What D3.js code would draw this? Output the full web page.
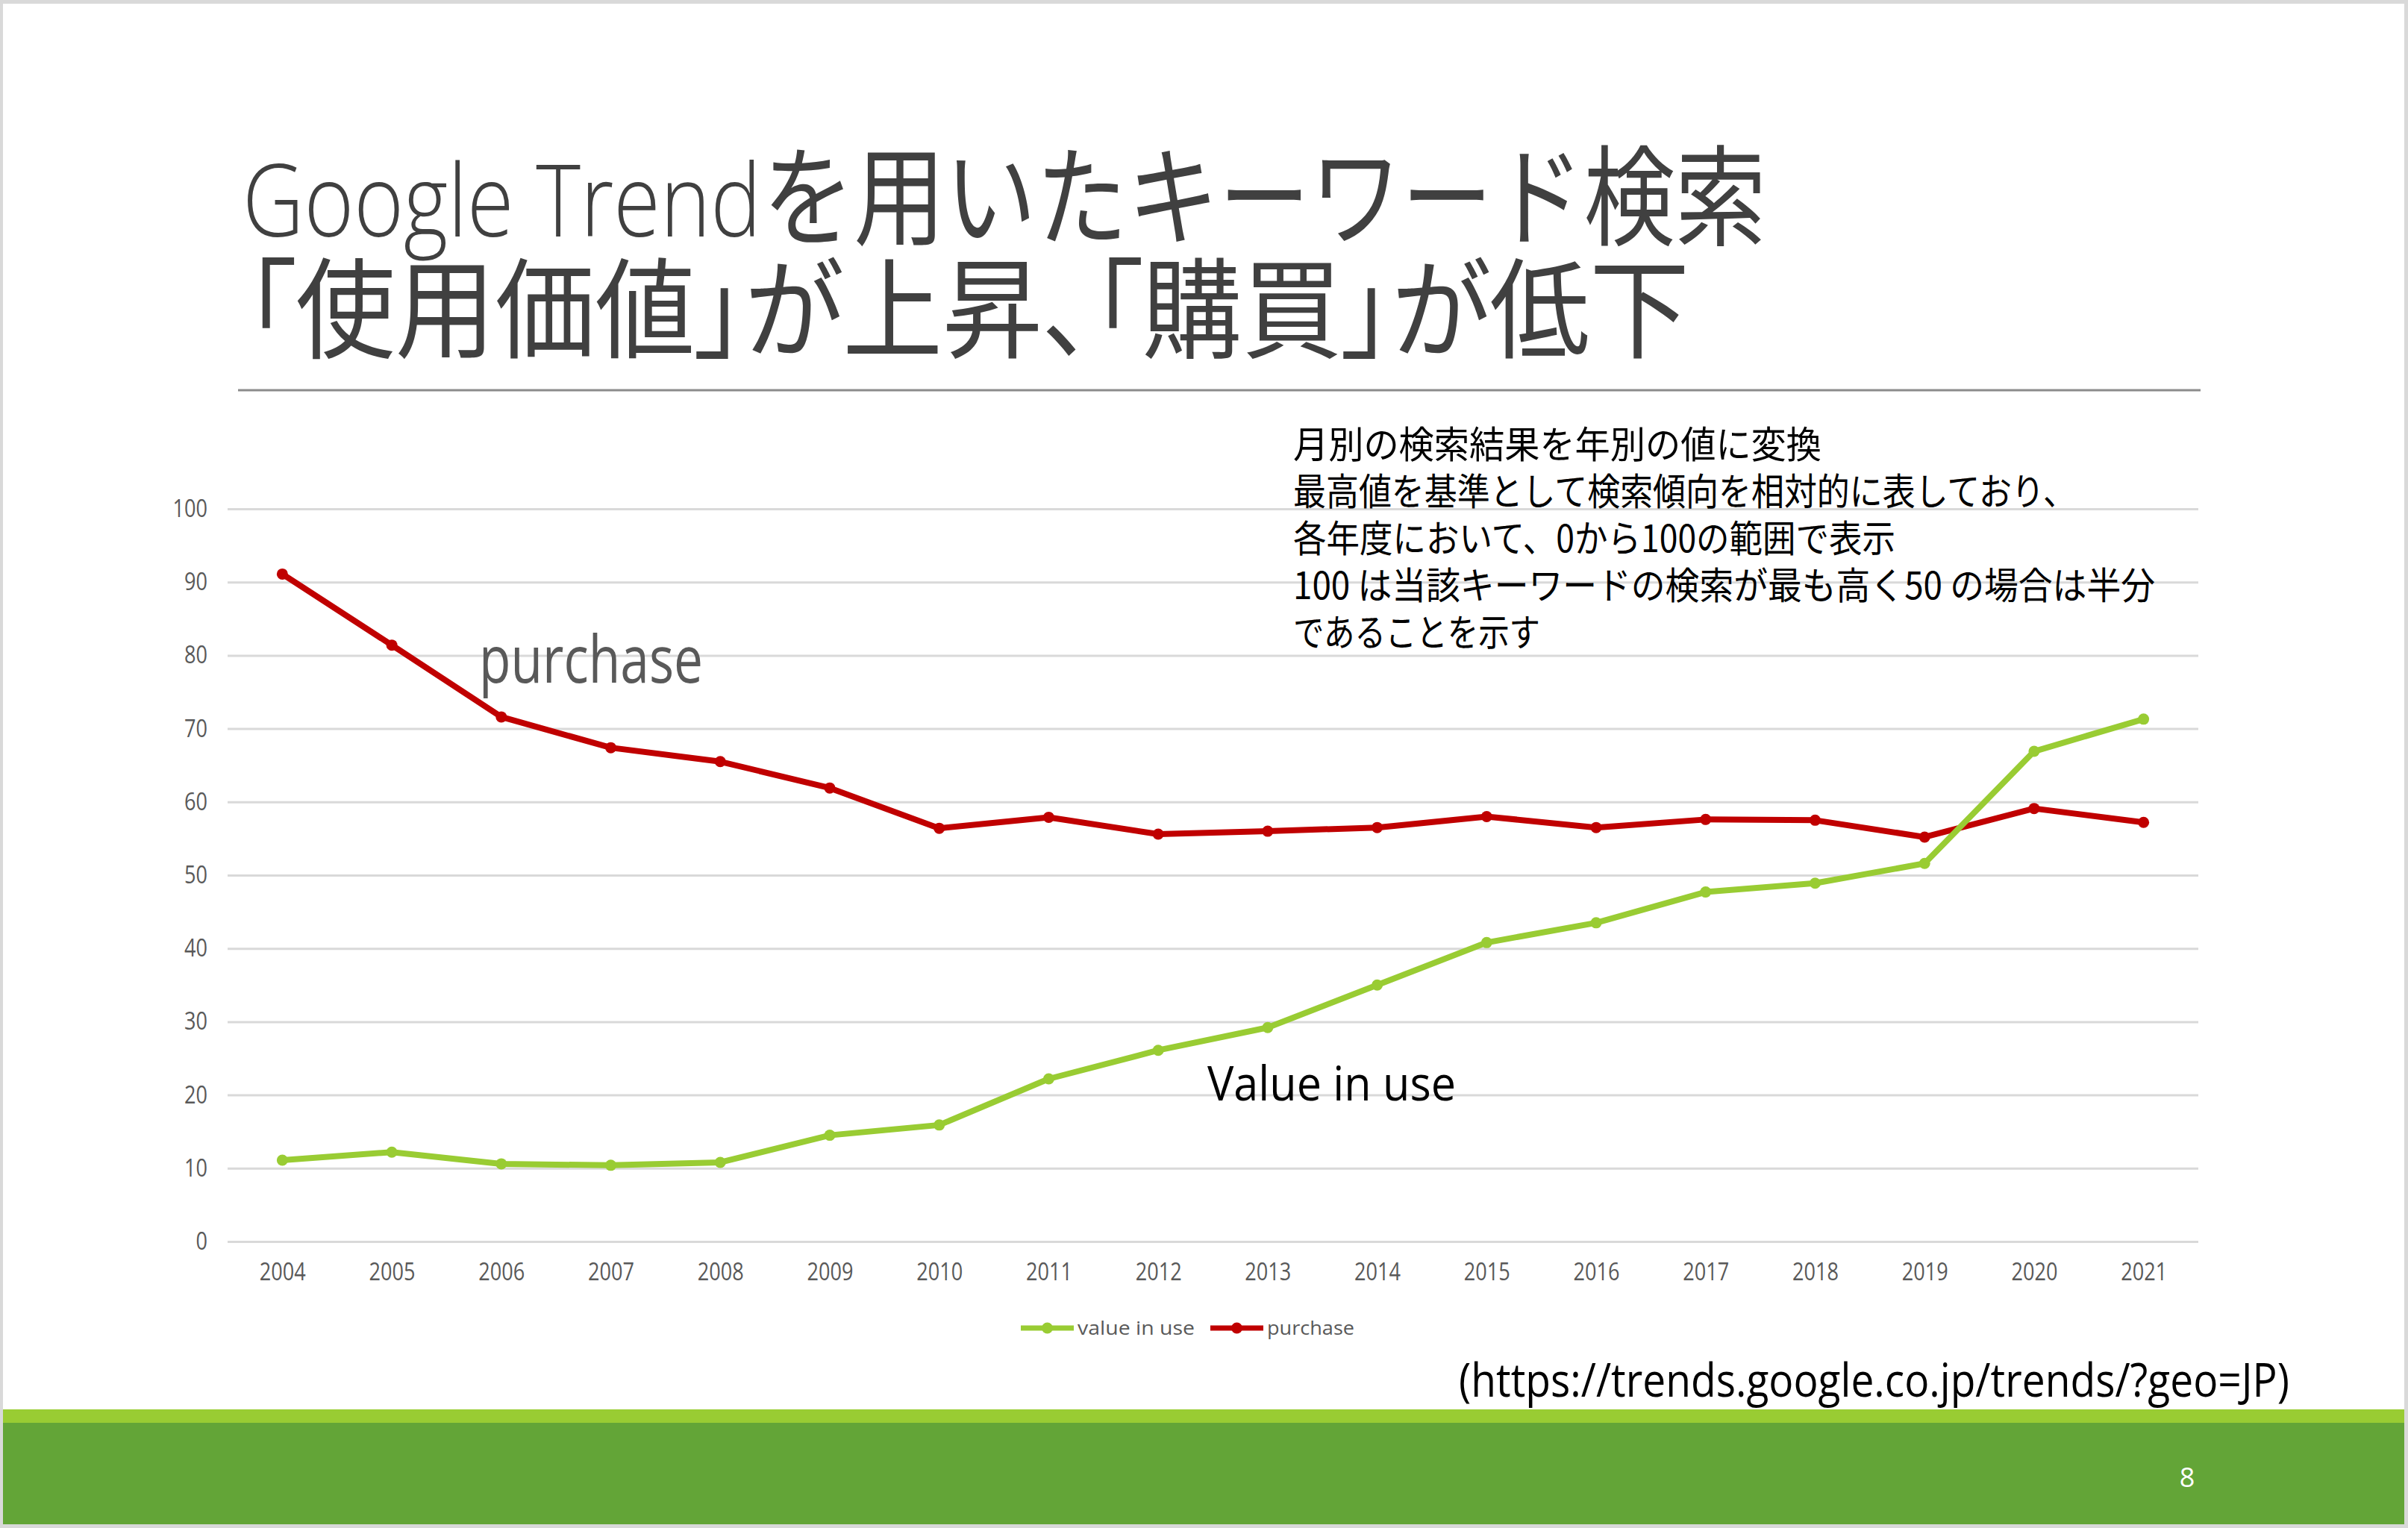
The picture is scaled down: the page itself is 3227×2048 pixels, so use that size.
<!DOCTYPE html>
<html>
<head>
<meta charset="utf-8">
<script src="https://cdn.jsdelivr.net/npm/d3@7"></script>
<style>
  html, body { margin: 0; padding: 0; background: #d9d9d9; }
  svg { display: block; }
</style>
</head>
<body>
<div id="chart"></div>
<script>
// data
const years = ["2004", "2005", "2006", "2007", "2008", "2009", "2010", "2011", "2012",
    "2013", "2014", "2015", "2016", "2017", "2018", "2019", "2020", "2021"];
const valueInUse = [11.1, 12.2, 10.6, 10.4, 10.8, 14.5, 15.9, 22.2, 26.1,
    29.2, 35.0, 40.8, 43.5, 47.7, 48.9, 51.6, 66.9, 71.3];
const purchase = [91.1, 81.4, 71.6, 67.4, 65.5, 61.9, 56.4, 57.9, 55.6,
    56.0, 56.5, 58.0, 56.5, 57.6, 57.5, 55.2, 59.1, 57.2];
const yTicks = [0, 10, 20, 30, 40, 50, 60, 70, 80, 90, 100];
const seriesNames = ["value in use", "purchase"];

const titleLatin = "Google Trend";
const titleRest = "を用いたキーワード検索";
const titleLine2 = "「使用価値」が上昇、「購買」が低下";
const noteLines = [
    "月別の検索結果を年別の値に変換",
    "最高値を基準として検索傾向を相対的に表しており、",
    "各年度において、0から100の範囲で表示",
    "100 は当該キーワードの検索が最も高く50 の場合は半分",
    "であることを示す"
];
const source = "(https://trends.google.co.jp/trends/?geo=JP)";

const W = 3227, H = 2048;
const green = "#99cc33", red = "#c00000";
const latin = "'Open Sans', 'Noto Sans CJK JP', sans-serif";
const jp = "'Noto Sans CJK JP', 'Open Sans', sans-serif";

const svg = d3.select("#chart").append("svg")
    .attr("width", W)
    .attr("height", H);

// slide background + frame
svg.append("rect").attr("width", W).attr("height", H).attr("fill", "#d9d9d9");
svg.append("rect").attr("x", 4).attr("y", 5).attr("width", 3218).attr("height", 2038).attr("fill", "#fff");
svg.append("rect").attr("x", 4).attr("y", 1889).attr("width", 3218).attr("height", 18).attr("fill", green);
svg.append("rect").attr("x", 4).attr("y", 1907).attr("width", 3218).attr("height", 136).attr("fill", "#63a537");

// title
svg.append("text")
    .attr("x", 325).attr("y", 317)
    .attr("textLength", 695)
    .attr("lengthAdjust", "spacingAndGlyphs")
    .attr("font-family", latin)
    .attr("font-weight", 300)
    .attr("font-size", 134)
    .attr("fill", "#404040")
    .text(titleLatin);

svg.append("text")
    .attr("x", 1022).attr("y", 317)
    .attr("textLength", 1345)
    .attr("lengthAdjust", "spacingAndGlyphs")
    .attr("font-family", jp)
    .attr("font-size", 146)
    .attr("fill", "#404040")
    .text(titleRest);

svg.append("text")
    .attr("x", 329).attr("y", 468)
    .attr("textLength", 1935)
    .attr("lengthAdjust", "spacingAndGlyphs")
    .attr("font-family", jp)
    .attr("font-size", 146)
    .style("font-feature-settings", "'palt'")
    .attr("fill", "#404040")
    .text(titleLine2);

svg.append("line")
    .attr("x1", 319).attr("x2", 2949)
    .attr("y1", 523).attr("y2", 523)
    .attr("stroke", "#8c8c8c")
    .attr("stroke-width", 3);

// scales
const xScale = d3.scalePoint()
    .domain(years)
    .range([305, 2946])
    .padding(0.5);

const yScale = d3.scaleLinear()
    .domain([0, 100])
    .range([1664, 682]);

// gridlines + y labels
const yAxis = svg.append("g")
    .attr("transform", "translate(305,0)")
    .call(d3.axisLeft(yScale).tickValues(yTicks).tickSize(-(2946 - 305)).tickPadding(27));
yAxis.select(".domain").remove();
yAxis.selectAll(".tick line").attr("stroke", "#d9d9d9").attr("stroke-width", 3);
yAxis.selectAll(".tick text")
    .attr("font-family", latin)
    .attr("font-size", 33)
    .attr("fill", "#595959")
    .attr("textLength", d => String(d).length * 15.5)
    .attr("lengthAdjust", "spacingAndGlyphs");

// x labels
const xAxis = svg.append("g")
    .attr("transform", "translate(0,1664)")
    .call(d3.axisBottom(xScale).tickSize(0).tickPadding(29));
xAxis.select(".domain").remove();
xAxis.selectAll(".tick text")
    .attr("font-family", latin)
    .attr("font-size", 33)
    .attr("fill", "#595959")
    .attr("textLength", 62)
    .attr("lengthAdjust", "spacingAndGlyphs");

// series
const line = d3.line()
    .x((d, i) => xScale(years[i]))
    .y(d => yScale(d));

const series = [
    { name: seriesNames[1], values: purchase, color: red },
    { name: seriesNames[0], values: valueInUse, color: green }
];

series.forEach(s => {
    svg.append("path")
        .datum(s.values)
        .attr("fill", "none")
        .attr("stroke", s.color)
        .attr("stroke-width", 8)
        .attr("stroke-linejoin", "round")
        .attr("d", line);

    svg.append("g").selectAll("circle")
        .data(s.values)
        .enter()
        .append("circle")
        .attr("cx", (d, i) => xScale(years[i]))
        .attr("cy", d => yScale(d))
        .attr("r", 7.5)
        .attr("fill", s.color);
});

// legend
const legend = [
    { name: seriesNames[0], color: green, x: 1368, w: 157 },
    { name: seriesNames[1], color: red, x: 1622, w: 117 }
];
const lg = svg.append("g").selectAll("g")
    .data(legend)
    .enter()
    .append("g")
    .attr("transform", d => "translate(" + d.x + ",1780)");
lg.append("line")
    .attr("x1", 0).attr("x2", 71)
    .attr("stroke", d => d.color)
    .attr("stroke-width", 7);
lg.append("circle")
    .attr("cx", 35.5)
    .attr("r", 7.5)
    .attr("fill", d => d.color);
lg.append("text")
    .attr("x", 76)
    .attr("y", 9)
    .attr("font-family", latin)
    .attr("font-size", 25)
    .attr("fill", "#595959")
    .attr("textLength", d => d.w)
    .attr("lengthAdjust", "spacingAndGlyphs")
    .text(d => d.name);

// annotations on the chart
svg.append("text")
    .attr("x", 642).attr("y", 915)
    .attr("font-family", latin)
    .attr("font-size", 88)
    .attr("fill", "#595959")
    .attr("textLength", 300)
    .attr("lengthAdjust", "spacingAndGlyphs")
    .text("purchase");

svg.append("text")
    .attr("x", 1618).attr("y", 1475)
    .attr("font-family", latin)
    .attr("font-size", 64)
    .attr("fill", "#000")
    .attr("textLength", 333)
    .attr("lengthAdjust", "spacingAndGlyphs")
    .text("Value in use");

const noteWidths = [708, 1049, 807, 1155, 331];
svg.append("g").selectAll("text")
    .data(noteLines)
    .enter()
    .append("text")
    .attr("x", 1733)
    .attr("y", (d, i) => 614 + i * 63)
    .attr("font-family", jp)
    .attr("font-size", 50)
    .attr("fill", "#000")
    .attr("textLength", (d, i) => noteWidths[i])
    .attr("lengthAdjust", "spacingAndGlyphs")
    .text(d => d);

svg.append("text")
    .attr("x", 1955).attr("y", 1872)
    .attr("font-family", latin)
    .attr("font-size", 62)
    .attr("fill", "#000")
    .attr("textLength", 1113)
    .attr("lengthAdjust", "spacingAndGlyphs")
    .text(source);

// page number
svg.append("text")
    .attr("x", 2931).attr("y", 1993)
    .attr("text-anchor", "middle")
    .attr("font-family", latin)
    .attr("font-size", 36)
    .attr("fill", "#fff")
    .text("8");
</script>
</body>
</html>
